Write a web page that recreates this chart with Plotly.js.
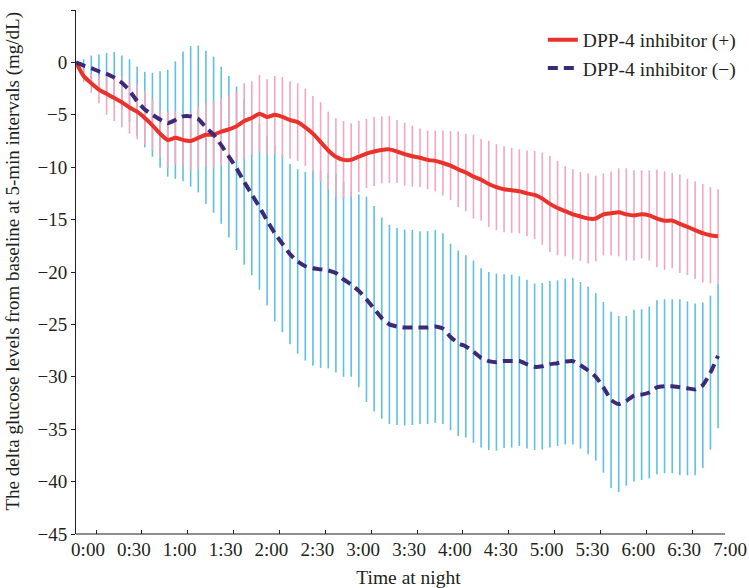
<!DOCTYPE html>
<html>
<head>
<meta charset="utf-8">
<script src="https://cdn.plot.ly/plotly-3.0.1.min.js"></script>
<style>html,body{margin:0;padding:0;background:#fff}#chart{width:749px;height:588px}</style>
</head>
<body>
<div id="chart"></div>
<script>
// Time after baseline (minutes), 5-min intervals
const minutes = [0,5,10,15,20,25,30,35,40,45,50,55,60,65,70,75,80,85,90,95,
  100,105,110,115,120,125,130,135,140,145,150,155,160,165,170,175,180,185,190,195,
  200,205,210,215,220,225,230,235,240,245,250,255,260,265,270,275,280,285,290,295,
  300,305,310,315,320,325,330,335,340,345,350,355,360,365,370,375,380,385,390,395,
  400,405,410,415,420];

// DPP-4 inhibitor (+): mean and SD
const plusMean = [0,-1.3,-2.0,-2.6,-3.0,-3.4,-3.8,-4.3,-4.7,-5.3,
  -6.0,-6.8,-7.4,-7.2,-7.4,-7.5,-7.2,-6.9,-6.9,-6.6,
  -6.4,-6.1,-5.6,-5.3,-4.9,-5.2,-5.0,-5.2,-5.5,-5.7,
  -6.2,-6.8,-7.6,-8.4,-9.0,-9.3,-9.3,-9.0,-8.7,-8.5,
  -8.35,-8.3,-8.5,-8.75,-8.95,-9.1,-9.3,-9.4,-9.6,-9.85,
  -10.2,-10.5,-10.9,-11.2,-11.6,-11.9,-12.1,-12.2,-12.3,-12.5,
  -12.65,-13.0,-13.5,-13.9,-14.2,-14.5,-14.7,-14.9,-14.9,-14.5,
  -14.4,-14.3,-14.5,-14.6,-14.5,-14.6,-14.9,-15.1,-15.1,-15.4,
  -15.7,-16.0,-16.3,-16.5,-16.6];
const plusSD = [0,0.6,0.9,1.3,2.0,2.2,2.4,2.5,2.6,2.55,
  2.45,2.2,2.7,2.55,2.45,2.75,3.0,3.0,3.2,3.2,
  3.25,3.3,3.6,3.5,3.7,3.6,3.7,3.8,3.7,3.7,
  3.7,3.6,3.8,3.7,3.7,3.7,3.5,3.4,3.3,3.3,
  3.2,3.2,3.0,3.0,2.9,2.8,2.8,2.9,3.1,3.3,
  3.6,3.7,4.0,3.9,4.1,4.1,4.1,4.05,4.0,4.1,
  4.2,4.4,4.6,4.5,4.3,4.3,4.25,4.3,4.1,3.9,
  4.0,4.2,4.4,4.3,4.2,4.3,4.65,4.7,4.55,4.7,
  4.6,4.65,4.7,4.6,4.5];

// DPP-4 inhibitor (−): mean and SD
const minusMean = [0,-0.3,-0.55,-0.85,-1.1,-1.45,-1.95,-2.7,-3.7,-4.5,
  -5.0,-5.45,-5.8,-5.5,-5.15,-5.15,-5.4,-6.2,-6.9,-7.9,
  -9.0,-10.1,-11.4,-12.6,-13.8,-15.1,-16.3,-17.3,-18.3,-19.0,
  -19.45,-19.65,-19.75,-19.85,-20.1,-20.7,-21.2,-21.8,-22.6,-23.5,
  -24.4,-25.0,-25.2,-25.3,-25.3,-25.3,-25.3,-25.2,-25.4,-26.2,
  -26.8,-27.1,-27.6,-28.2,-28.5,-28.6,-28.5,-28.5,-28.5,-28.8,
  -29.05,-29.0,-28.8,-28.7,-28.55,-28.5,-28.9,-29.4,-30.0,-31.0,
  -32.2,-32.6,-32.3,-31.8,-31.7,-31.5,-31.0,-30.9,-30.9,-31.0,
  -31.1,-31.2,-30.8,-29.6,-28.0];
const minusSD = [0,0.6,1.2,1.6,2.0,2.45,2.6,3.0,3.3,3.6,
  4.0,4.6,5.1,5.6,6.2,6.7,7.0,7.3,7.45,7.5,
  7.7,7.8,7.9,7.7,7.9,8.1,8.4,8.45,8.6,8.8,
  9.0,9.3,9.4,9.35,9.5,9.3,8.8,9.2,9.8,9.8,
  9.6,9.5,9.4,9.35,9.3,9.2,9.2,9.2,9.1,8.9,
  8.85,8.7,8.7,8.55,8.5,8.45,8.3,8.25,8.1,8.05,
  7.95,7.95,7.95,7.9,7.9,7.95,7.95,8.0,8.0,8.15,
  8.4,8.4,8.1,8.2,8.15,8.2,8.3,8.3,8.3,8.4,
  8.3,8.2,7.9,7.35,6.9];

// Axis tick labels (half-hour marks)
const tickMinutes = [0,30,60,90,120,150,180,210,240,270,300,330,360,390,420];
const tickLabels = ["0:00","0:30","1:00","1:30","2:00","2:30","3:00","3:30","4:00","4:30","5:00","5:30","6:00","6:30","7:00"];

const FONT = "Liberation Serif, Times New Roman, serif";
const TXT = "#231f20";
const LABEL_OFFSET = 7.85;  // labels sit slightly right of data origin in the original
const TICK_OFFSET = 13.1;   // tick marks sit further right in the original
const X_END = 435;
const AXIS_END = 424.6;

const traces = [
  {x: minutes, y: minusMean, type: 'scatter', mode: 'markers', showlegend: false, hoverinfo: 'skip',
   marker: {size: 1, opacity: 0},
   error_y: {type: 'data', array: minusSD, visible: true, color: '#5ebfe7', thickness: 1.6, width: 0}},
  {x: minutes, y: plusMean, type: 'scatter', mode: 'markers', showlegend: false, hoverinfo: 'skip',
   marker: {size: 1, opacity: 0},
   error_y: {type: 'data', array: plusSD, visible: true, color: '#f4a6be', thickness: 1.6, width: 0}},
  {x: minutes, y: plusMean, type: 'scatter', mode: 'lines', name: 'DPP-4 inhibitor (+)', legendgroup: 'a',
   line: {color: '#e8322a', width: 4, shape: 'spline', smoothing: 0.5}},
  {x: minutes, y: minusMean, type: 'scatter', mode: 'lines', name: 'DPP-4 inhibitor (\u2212)', legendgroup: 'b',
   line: {color: '#3b2a78', width: 4, dash: '10px,6px', shape: 'spline', smoothing: 0.5}}
];

const layout = {
  width: 749, height: 588,
  margin: {l: 76, r: 8, t: 10, b: 54},
  paper_bgcolor: '#fff', plot_bgcolor: '#fff',
  font: {family: FONT, color: TXT, size: 19},
  showlegend: true,
  legend: {x: 0.702, y: 0.98, xanchor: 'left', yanchor: 'top', bgcolor: 'rgba(0,0,0,0)',
           font: {family: FONT, size: 19.5, color: TXT}, tracegroupgap: 4, traceorder: 'normal'},
  xaxis: {
    range: [0, X_END], showgrid: false, zeroline: false, showline: false,
    tickmode: 'array', tickvals: tickMinutes.map(m => m + LABEL_OFFSET), ticktext: tickLabels,
    ticks: '', ticklabelstandoff: 2, tickfont: {family: FONT, size: 19, color: TXT},
    minor: {tickmode: 'array', tickvals: tickMinutes.slice(0, 14).map(m => m + TICK_OFFSET),
            ticks: 'inside', ticklen: 4, tickwidth: 1, tickcolor: TXT, showgrid: false},
    title: {text: 'Time at night', font: {family: FONT, size: 19.5, color: TXT}, standoff: 12}
  },
  yaxis: {
    range: [-45, 5], dtick: 5, tick0: 0, showgrid: false, zeroline: false,
    showline: true, linecolor: TXT, linewidth: 1,
    ticks: 'outside', ticklen: 4, tickcolor: TXT,
    tickfont: {family: FONT, size: 19, color: TXT},
    title: {text: ''}
  },
  annotations: [
    {text: 'The delta glucose levels from baseline at 5-min intervals (mg/dL)',
     xref: 'paper', yref: 'paper', x: -0.0962, y: 0.52, xanchor: 'center', yanchor: 'middle',
     textangle: -90, showarrow: false, font: {family: FONT, size: 19, color: TXT}}
  ],
  shapes: [
    {type: 'line', xref: 'x', yref: 'paper', x0: 0, x1: AXIS_END, y0: 0, y1: 0,
     line: {color: TXT, width: 1}, layer: 'above'}
  ]
};

Plotly.newPlot('chart', traces, layout, {displayModeBar: false, staticPlot: true});
</script>
</body>
</html>
